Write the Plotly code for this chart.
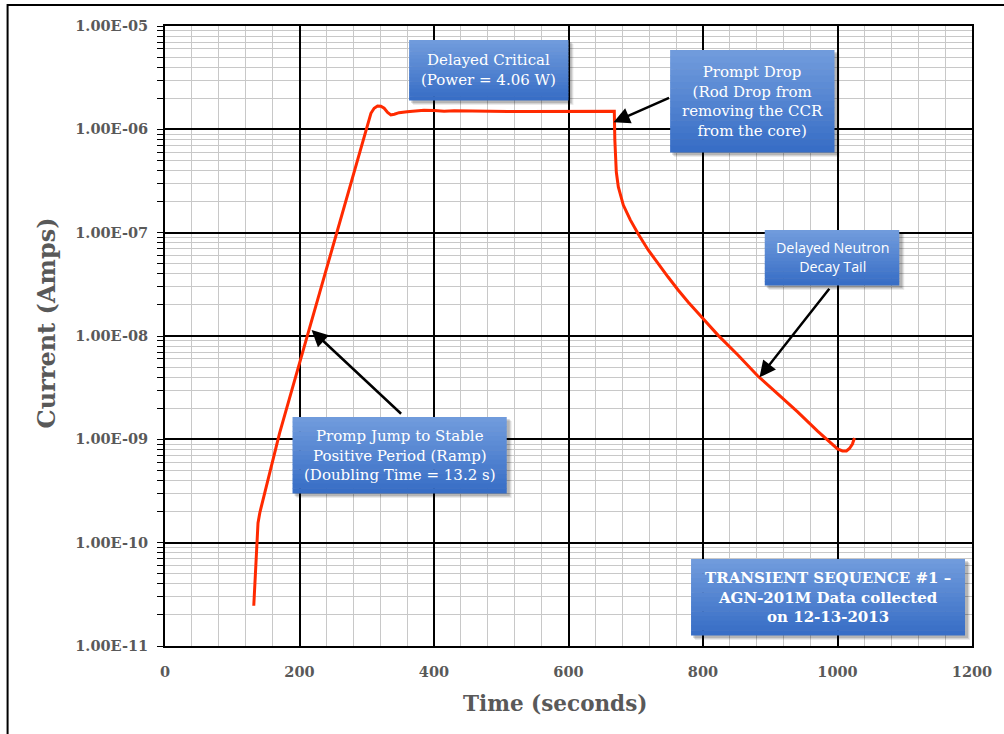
import math
import plotly.graph_objects as go

# ---------------- data ----------------
time_s = [132.0, 132.6, 133.3, 134.3, 135.8, 137.0, 138.3, 141.0, 145.6, 150.0, 155.6,
          162.0, 170.4, 185.0, 200.0, 215.0, 230.0, 245.0, 260.0, 275.0, 290.0,
          298.8, 302.5, 306.2, 311.0, 316.0, 321.0, 325.9, 331.0, 335.9, 341.0,
          348.1, 360.0, 372.0, 385.0, 400.0, 415.0, 430.0, 450.0, 480.0, 510.0,
          540.0, 570.0, 600.0, 630.0, 660.0, 667.5,
          668.1, 668.9, 669.6, 671.1, 674.1, 681.5, 691.9, 703.7, 718.5, 733.3,
          748.1, 763.0, 777.8, 792.6, 822.2, 851.9, 881.5, 911.1, 940.7, 970.4,
          1000.0, 1007.4, 1013.3, 1017.8, 1022.2, 1025.2]
current_a = [2.45e-11, 3.0e-11, 3.6e-11, 4.7e-11, 8.5e-11, 1.15e-10, 1.55e-10, 1.95e-10, 2.59e-10, 3.3e-10, 4.72e-10,
             7.2e-10, 1.15e-09, 2.48e-09, 5.3e-09, 1.20e-08, 2.63e-08, 5.78e-08, 1.27e-07, 2.79e-07, 6.14e-07,
             9.86e-07, 1.2e-06, 1.43e-06, 1.6e-06, 1.68e-06, 1.67e-06, 1.60e-06, 1.46e-06, 1.38e-06, 1.40e-06,
             1.45e-06, 1.48e-06, 1.50e-06, 1.53e-06, 1.52e-06, 1.50e-06, 1.51e-06, 1.50e-06, 1.50e-06, 1.49e-06,
             1.49e-06, 1.49e-06, 1.49e-06, 1.49e-06, 1.49e-06, 1.49e-06,
             1.50e-06, 7.89e-07, 5.40e-07, 3.86e-07, 2.77e-07, 1.85e-07, 1.33e-07, 9.7e-08, 6.8e-08, 4.97e-08,
             3.72e-08, 2.79e-08, 2.13e-08, 1.67e-08, 1.02e-08, 6.55e-09, 4.10e-09, 2.75e-09, 1.84e-09, 1.20e-09,
             8.07e-10, 7.71e-10, 7.71e-10, 8.15e-10, 9.0e-10, 1.03e-09]

y_tick_vals = [1e-11, 1e-10, 1e-09, 1e-08, 1e-07, 1e-06, 1e-05]
y_tick_text = ["1.00E-11", "1.00E-10", "1.00E-09", "1.00E-08", "1.00E-07", "1.00E-06", "1.00E-05"]

# ---------------- layout helpers ----------------
W, H = 1004, 734
L, R, T, B = 165, 975, 26, 646


def px_x(px):
    return (px - L) / (R - L)


def px_y(py):
    return (B - py) / (B - T)


GRAY = "#595959"
SERIF = "DejaVu Serif"

fig = go.Figure()
fig.add_trace(go.Scatter(x=time_s, y=current_a, mode="lines",
                         line=dict(color="#ff2a00", width=3),
                         showlegend=False, hoverinfo="skip"))

shapes = []
# outer frame
shapes.append(dict(type="rect", xref="paper", yref="paper",
                   x0=px_x(7), x1=px_x(1012), y0=px_y(742), y1=px_y(5),
                   line=dict(color="black", width=2), fillcolor="rgba(0,0,0,0)", layer="above"))


def add_box(x0, y0, x1, y1, n=16):
    # soft drop shadow
    for off, a in ((5, 0.08), (4, 0.10), (3, 0.14)):
        shapes.append(dict(type="rect", xref="paper", yref="paper",
                           x0=px_x(x0 + off - 1), x1=px_x(x1 + off), y0=px_y(y1 + off), y1=px_y(y0 + off - 1),
                           line=dict(width=0), fillcolor="rgba(0,0,0,%.2f)" % a, layer="above"))
    top = (112, 155, 220)
    bot = (56, 110, 198)
    h = (y1 - y0) / n
    for i in range(n):
        t = i / (n - 1)
        c = tuple(int(round(top[k] + (bot[k] - top[k]) * t)) for k in range(3))
        shapes.append(dict(type="rect", xref="paper", yref="paper",
                           x0=px_x(x0), x1=px_x(x1),
                           y0=px_y(y0 + h * (i + 1) + 0.5), y1=px_y(y0 + h * i),
                           line=dict(width=0), fillcolor="rgb(%d,%d,%d)" % c, layer="above"))


boxes = [
    (410, 40, 570, 100),
    (672, 50, 837, 152),
    (293, 417, 508, 493),
    (767, 230, 902, 285),
    (693, 559, 968, 635),
]
for b in boxes:
    add_box(*b)

annotations = []
box_font = dict(family=SERIF, size=15, color="white")
texts = [
    ("Delayed Critical<br>(Power = 4.06 W)", 490, 70, box_font),
    ("Prompt Drop<br>(Rod Drop from<br>removing the CCR<br>from the core)", 754.5, 101, box_font),
    ("Promp Jump to Stable<br>Positive Period (Ramp)<br>(Doubling Time = 13.2 s)", 400.5, 455, box_font),
    ("Delayed Neutron<br>Decay Tail", 834.5, 257, dict(family="Open Sans", size=14.3, color="white")),
    ("<b>TRANSIENT SEQUENCE #1 –<br>AGN-201M Data collected<br>on 12-13-2013</b>", 830.5, 597, box_font),
]
for txt, cx, cy, f in texts:
    annotations.append(dict(text=txt, xref="paper", yref="paper", x=px_x(cx), y=px_y(cy),
                            xanchor="center", yanchor="middle", showarrow=False, font=f,
                            align="center"))

# axis titles
annotations.append(dict(text="<b>Time (seconds)</b>", xref="paper", yref="paper",
                        x=px_x(556), y=px_y(703), xanchor="center", yanchor="middle",
                        showarrow=False, font=dict(family=SERIF, size=21.5, color=GRAY)))
annotations.append(dict(text="<b>Current (Amps)</b>", xref="paper", yref="paper",
                        x=px_x(46), y=px_y(323), xanchor="center", yanchor="middle", textangle=-90,
                        showarrow=False, font=dict(family=SERIF, size=24, color=GRAY)))

# arrows: head in data coords, tail as pixel offsets
arrow_heads_x = [218, 667, 884]
arrow_heads_y = [1.14e-08, 1.17e-06, 3.98e-09]
arrow_tail_dx = [91, 57, 71]
arrow_tail_dy = [85, -25, -90]
for hx, hy, dx, dy in zip(arrow_heads_x, arrow_heads_y, arrow_tail_dx, arrow_tail_dy):
    annotations.append(dict(x=hx, y=math.log10(hy), xref="x", yref="y", text="",
                            showarrow=True, ax=dx, ay=dy, arrowhead=2, arrowsize=1.3,
                            arrowwidth=2.5, arrowcolor="black"))

fig.update_layout(
    width=W, height=H,
    margin=dict(l=L, r=W - R, t=T, b=H - B),
    paper_bgcolor="white", plot_bgcolor="white",
    shapes=shapes, annotations=annotations,
    xaxis=dict(range=[0, 1200], dtick=200, tick0=0,
               showgrid=True, gridcolor="black", gridwidth=1.6,
               minor=dict(dtick=40, showgrid=True, gridcolor="#c8c8c8", gridwidth=1.4),
               showline=True, linecolor="black", linewidth=2, mirror=True,
               ticks="", zeroline=False,
               tickfont=dict(family=SERIF, size=14.5, color=GRAY, weight="bold"),
               ticklabelstandoff=12),
    yaxis=dict(type="log", range=[-11, -5], tickmode="array", tickvals=y_tick_vals, ticktext=y_tick_text,
               showgrid=True, gridcolor="black", gridwidth=1.6,
               minor=dict(dtick="D1", showgrid=True, gridcolor="#c8c8c8", gridwidth=1.4,
                          ticks="outside", ticklen=6, tickcolor="black", tickwidth=1.2),
               showline=True, linecolor="black", linewidth=2, mirror=True,
               ticks="outside", ticklen=6, tickcolor="black", tickwidth=1.2, zeroline=False,
               tickfont=dict(family=SERIF, size=14.5, color=GRAY, weight="bold"),
               ticklabelstandoff=6),
)

fig.write_html("out.html")
